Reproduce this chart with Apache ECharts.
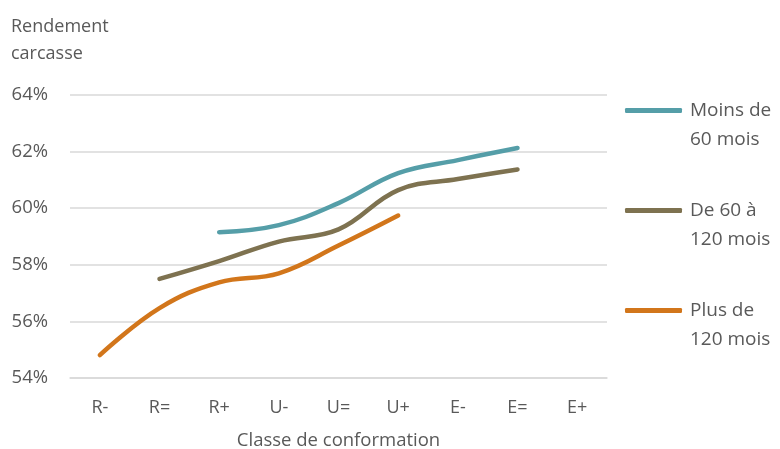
<!DOCTYPE html>
<html>
<head>
<meta charset="utf-8">
<script src="https://cdn.jsdelivr.net/npm/echarts@6/dist/echarts.min.js"></script>
<style>
  html, body { margin: 0; padding: 0; background: #fff; }
  #chart { width: 780px; height: 449px; }
</style>
</head>
<body>
<div id="chart"></div>
<script>
// categories and values (%)
var classes = ["R-", "R=", "R+", "U-", "U=", "U+", "E-", "E=", "E+"];
var moinsDe60 = [null, null, 59.15, 59.4, 60.18, 61.24, 61.7, 62.13, null];
var de60a120 = [null, 57.5, 58.13, 58.82, 59.25, 60.64, 61.03, 61.37, null];
var plusDe120 = [54.81, 56.47, 57.38, 57.7, 58.68, 59.74, null, null, null];
var seriesNames = ["Moins de 60 mois", "De 60 à 120 mois", "Plus de 120 mois"];
// blank first line so the first text line sits level with the legend line
var legendLabels = ["\nMoins de\n60 mois", "\nDe 60 à\n120 mois", "\nPlus de\n120 mois"];
var yTicks = [54, 56, 58, 60, 62, 64];

var colors = ["#559EA8", "#7E7250", "#D2761B"];
var font = "Open Sans";
var textColor = "#595959";

var chart = echarts.init(document.getElementById("chart"));

function lineSeries(name, data, color) {
  return {
    name: name,
    type: "line",
    data: data,
    smooth: 0.4,
    showSymbol: false,
    symbol: "none",
    lineStyle: { color: color, width: 4.5, cap: "round" },
    itemStyle: { color: color }
  };
}

chart.setOption({
  animation: false,
  textStyle: { fontFamily: font },
  title: {
    text: "Rendement\ncarcasse",
    left: 6,
    top: 8,
    textStyle: { fontFamily: font, fontSize: 18, fontWeight: "normal", color: textColor, lineHeight: 27 }
  },
  grid: { left: 70, right: 173, top: 95, bottom: 71, outerBoundsMode: "none" },
  legend: {
    orient: "vertical",
    left: 620,
    top: 62,
    itemWidth: 57,
    itemHeight: 5,
    itemGap: 13,
    icon: "roundRect",
    data: seriesNames,
    formatter: function (name) {
      return legendLabels[seriesNames.indexOf(name)];
    },
    textStyle: { fontFamily: font, fontSize: 19, color: textColor, lineHeight: 29, padding: [0, 0, 0, 3] }
  },
  xAxis: {
    type: "category",
    data: classes,
    boundaryGap: true,
    name: "Classe de conformation",
    nameLocation: "middle",
    nameGap: 53,
    nameTextStyle: { fontFamily: font, fontSize: 18.5, color: textColor },
    axisLine: { show: true, lineStyle: { color: "#d9d9d9", width: 1.5 } },
    axisTick: { show: false },
    axisLabel: { margin: 21, fontFamily: font, fontSize: 18, color: textColor }
  },
  yAxis: {
    type: "value",
    min: yTicks[0],
    max: yTicks[yTicks.length - 1],
    interval: 2,
    axisLine: { show: false },
    axisTick: { show: false },
    axisLabel: { margin: 22, fontFamily: font, fontSize: 18.5, color: textColor, formatter: "{value}%" },
    splitLine: { lineStyle: { color: "#d9d9d9", width: 1.5 } }
  },
  series: [
    lineSeries(seriesNames[0], moinsDe60, colors[0]),
    lineSeries(seriesNames[1], de60a120, colors[1]),
    lineSeries(seriesNames[2], plusDe120, colors[2])
  ]
});
</script>
</body>
</html>
